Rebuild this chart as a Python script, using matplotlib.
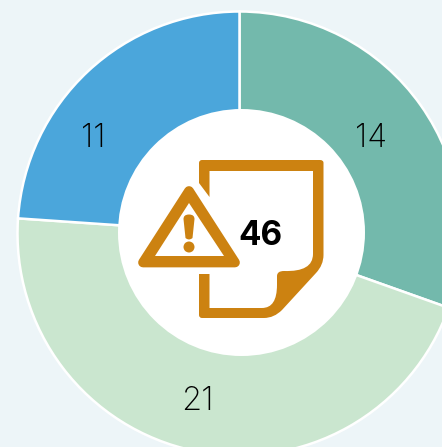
import matplotlib
matplotlib.use("Agg")
import matplotlib.pyplot as plt
from matplotlib.path import Path
from matplotlib.patches import PathPatch, Polygon, Circle

W, H = 442, 447

values = [14, 21, 11]
labels = ["14", "21", "11"]
colors = ["#73B9AC", "#CAE6CF", "#4BA6DB"]
total_label = "46"

bg = "#EDF5F8"
orange = "#CC8211"

plt.rcParams["font.family"] = ["Inter", "DejaVu Sans"]

fig = plt.figure(figsize=(W / 100, H / 100), dpi=100, facecolor=bg)
ax = fig.add_axes([0, 0, 1, 1])


def Y(y):
    # picture coordinates have y going down
    return H - y


ax.pie(values, colors=colors, startangle=90, counterclock=False, radius=222,
       center=(239.5, Y(233.5)), wedgeprops=dict(edgecolor="white", linewidth=1.8))
ax.add_patch(Circle((241.5, Y(232.5)), 123.5, facecolor="white", edgecolor="none", zorder=3))

# sheet with the folded corner
page = [
    (Path.MOVETO, 202, 160), (Path.LINETO, 320, 160),
    (Path.CURVE3, 323.5, 160), (Path.CURVE3, 323.5, 163),
    (Path.LINETO, 323.5, 255),
    (Path.CURVE3, 323.5, 265), (Path.CURVE3, 316, 273),
    (Path.LINETO, 282, 310),
    (Path.CURVE3, 274, 318), (Path.CURVE3, 264, 318),
    (Path.LINETO, 202, 318),
    (Path.CURVE3, 199, 318), (Path.CURVE3, 199, 315),
    (Path.LINETO, 199, 274), (Path.LINETO, 209.5, 274),
    (Path.LINETO, 209.5, 308), (Path.LINETO, 262, 308),
    (Path.CURVE3, 277, 308), (Path.CURVE3, 277, 285),
    (Path.LINETO, 277, 276),
    (Path.CURVE3, 277, 271), (Path.CURVE3, 284, 271),
    (Path.CURVE3, 313, 272), (Path.CURVE3, 313, 254),
    (Path.LINETO, 313, 171), (Path.LINETO, 209.5, 171),
    (Path.LINETO, 209.5, 197), (Path.LINETO, 199, 183),
    (Path.LINETO, 199, 163),
    (Path.CURVE3, 199, 160), (Path.CURVE3, 202, 160),
    (Path.CLOSEPOLY, 202, 160),
]
ax.add_patch(PathPatch(Path([(x, Y(y)) for _, x, y in page], [c for c, _, _ in page]),
                       facecolor=orange, edgecolor="none", zorder=4))

# warning triangle
tri = [(189, 191), (143, 262.5), (235, 262.5)]
ax.add_patch(Polygon([(x, Y(y)) for x, y in tri], facecolor=orange, edgecolor=orange,
                     linewidth=7, joinstyle="round", zorder=5))
inner = [(189, 203), (155, 256), (224, 256)]
ax.add_patch(Polygon([(x, Y(y)) for x, y in inner], facecolor="white", edgecolor="none", zorder=6))
mark = [
    (Path.MOVETO, 183.5, 219),
    (Path.CURVE3, 183.5, 214.5), (Path.CURVE3, 189, 214.5),
    (Path.CURVE3, 194.5, 214.5), (Path.CURVE3, 194.5, 219),
    (Path.LINETO, 192.5, 238),
    (Path.CURVE3, 189, 241), (Path.CURVE3, 185.5, 238),
    (Path.CLOSEPOLY, 183.5, 219),
]
ax.add_patch(PathPatch(Path([(x, Y(y)) for _, x, y in mark], [c for c, _, _ in mark]),
                       facecolor=orange, edgecolor="none", zorder=7))
ax.add_patch(Circle((189, Y(247)), 5.5, facecolor=orange, edgecolor="none", zorder=7))

ax.text(371, Y(135), labels[0], fontsize=23.5, fontweight="light", color="black",
        ha="center", va="center_baseline", zorder=8)
ax.text(197.5, Y(397.5), labels[1], fontsize=23.5, fontweight="light", color="black",
        ha="center", va="center_baseline", zorder=8)
ax.text(93, Y(135), labels[2], fontsize=23.5, fontweight="light", color="black",
        ha="center", va="center_baseline", zorder=8)
ax.text(260, Y(232.5), total_label, fontsize=24, fontweight="bold", color="black",
        ha="center", va="center_baseline", zorder=8)

ax.set_xlim(0, W)
ax.set_ylim(0, H)
ax.set_aspect("equal")
ax.axis("off")

fig.savefig("out.png", dpi=100, facecolor=bg)
